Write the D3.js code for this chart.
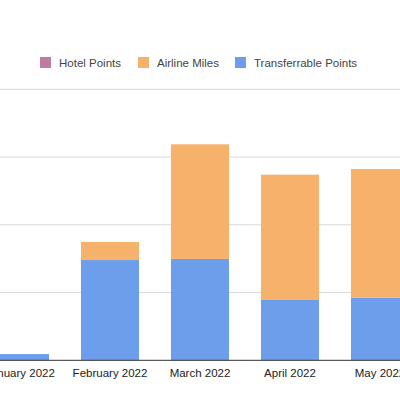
<!DOCTYPE html>
<html lang="en">
<head>
  <meta charset="UTF-8">
  <title>Points by month</title>
  <style>
    body { margin: 0; background: #fff; }
    svg { display: block; font-family: "Liberation Sans", Arial, sans-serif; }
  </style>
</head>
<body>
  <script src="https://d3js.org/d3.v7.min.js"></script>
  <div id="chart"></div>

  <script>
    // values
    const months = ['January 2022', 'February 2022', 'March 2022', 'April 2022', 'May 2022']
    const hotelPoints = [0, 0, 0, 0, 0]
    const airlineMiles = [0, 13300, 84600, 92500, 95000]
    const transferrablePoints = [4600, 74000, 74800, 44500, 46200]
    const yTicks = [0, 50000, 100000, 150000, 200000]

    const seriesNames = ['Hotel Points', 'Airline Miles', 'Transferrable Points']
    const colors = ['#c27ba0', '#f6b26b', '#6d9eeb']

    const rows = months.map((m, i) => ({
      month: m,
      'Transferrable Points': transferrablePoints[i],
      'Airline Miles': airlineMiles[i],
      'Hotel Points': hotelPoints[i]
    }))

    const svg = d3.select('#chart')
      .append('svg')
      .attr('width', 400)
      .attr('height', 400)

    const x = d3.scaleBand()
      .domain(months)
      .range([-25, 425])
      .paddingInner(0.355)
      .paddingOuter(0.1775)

    const y = d3.scaleLinear()
      .domain([0, 200000])
      .range([360.3, 89.3])

    // gridlines
    svg.append('g')
      .selectAll('line')
      .data(yTicks.slice(1))
      .join('line')
      .attr('x1', 0)
      .attr('x2', 400)
      .attr('y1', d => y(d))
      .attr('y2', d => y(d))
      .attr('stroke', '#d9d9d9')
      .attr('stroke-width', 1)

    // stacked bars, blue at the bottom
    const stack = d3.stack().keys(['Transferrable Points', 'Airline Miles', 'Hotel Points'])
    const layers = stack(rows)

    svg.append('g')
      .selectAll('g')
      .data(layers)
      .join('g')
      .attr('fill', d => colors[seriesNames.indexOf(d.key)])
      .selectAll('rect')
      .data(d => d)
      .join('rect')
      .attr('x', d => x(d.data.month))
      .attr('width', x.bandwidth())
      .attr('y', d => y(d[1]))
      .attr('height', d => y(d[0]) - y(d[1]))

    // x axis
    const xAxis = svg.append('g')
      .attr('transform', `translate(0, ${y(0)})`)
      .call(d3.axisBottom(x).tickSize(0).tickPadding(9))
    xAxis.select('.domain').remove()
    xAxis.selectAll('text')
      .attr('font-size', 11.5)
      .attr('font-family', '"Liberation Sans", Arial, sans-serif')
      .attr('fill', '#222')

    svg.append('line')
      .attr('x1', 0)
      .attr('x2', 400)
      .attr('y1', y(0))
      .attr('y2', y(0))
      .attr('stroke', '#333')
      .attr('stroke-width', 1)

    // legend
    const legendX = [40, 138, 235]
    const legend = svg.append('g')
    seriesNames.forEach((name, i) => {
      legend.append('rect')
        .attr('x', legendX[i])
        .attr('y', 57)
        .attr('width', 11)
        .attr('height', 11)
        .attr('fill', colors[i])
      legend.append('text')
        .attr('x', legendX[i] + 19)
        .attr('y', 66.5)
        .attr('font-size', 11.5)
        .attr('font-family', '"Liberation Sans", Arial, sans-serif')
        .attr('fill', '#444')
        .text(name)
    })
  </script>
</body>
</html>
